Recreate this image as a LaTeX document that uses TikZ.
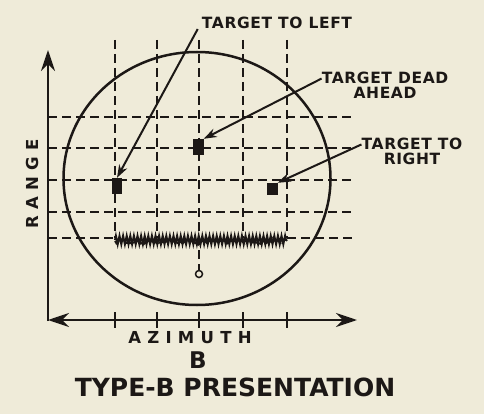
\documentclass[tikz,border=0pt]{standalone}
\usepackage{fontspec}
\setmainfont{DejaVu Sans}
\usetikzlibrary{arrows.meta,decorations.pathmorphing}
\definecolor{paper}{RGB}{239,235,217}
\definecolor{ink}{RGB}{28,24,22}
\tikzset{
	gridline/.style={ink,line width=1.6pt,dash pattern=on 9pt off 5pt},
	blip/.style={fill=ink,inner sep=0pt,draw=none},
	callout/.style={font=\bfseries\fontsize{15.5}{15}\selectfont\addfontfeature{LetterSpace=4},text=ink,inner sep=0pt,align=center},
	pointer/.style={ink,line width=2pt,-{Stealth[length=13pt,width=9pt]}},
	axis/.style={ink,line width=2.4pt},
	spaced/.style={font=\bfseries\fontsize{16.5}{18}\selectfont\addfontfeature{LetterSpace=38}}
}
\begin{document}
\begin{tikzpicture}[x=1pt,y=-1pt]
		\fill[paper] (0,0) rectangle (484,414);
		\useasboundingbox (0,0) rectangle (484,414);
		
		\draw[gridline] (48,117) -- (352,117);
		\draw[gridline] (48,148) -- (352,148);
		\draw[gridline] (48,180) -- (352,180);
		\draw[gridline] (48,212) -- (352,212);
		\draw[gridline] (48,238) -- (115,238);
		\draw[gridline] (287,238) -- (352,238);
		
		\node[draw=ink,circle,line width=1.5pt,inner sep=0pt,minimum size=7pt] (zero) at (199,274) {};
		
		\draw[gridline] (115,40) -- (115,238);
		\draw[gridline] (157,40) -- (157,238);
		\draw[gridline] (199,40) -- (zero.north);
		\draw[gridline] (243,40) -- (243,238);
		\draw[gridline] (287,40) -- (287,238);
		
		\draw[ink,line width=2.5pt] (197,178.5) ellipse [x radius=133.5,y radius=126.5];
		
		\draw[ink,line width=1.9pt,decorate,decoration={zigzag,segment length=3.6pt,amplitude=4.4pt}] (115,240) -- (287,240);
		\draw[ink,line width=1.8pt,decorate,decoration={random steps,segment length=2.5pt,amplitude=2.8pt}] (115,241) -- (287,241);
		
		\node[blip,minimum width=10pt,minimum height=16pt] (bleft) at (117,186) {};
		\node[blip,minimum width=11pt,minimum height=16pt] (bahead) at (198,147) {};
		\node[blip,minimum width=11pt,minimum height=12pt] (bright) at (272,189) {};
		
		\coordinate (origin) at (48,320);
		\coordinate (rangetop) at (48,50);
		\coordinate (azimuthend) at (357,320);
		\draw[axis,-{Stealth[length=21pt,width=14pt]}] ([yshift=-1.2pt]origin) -- (rangetop);
		\draw[axis,{Stealth[length=21pt,width=14pt]}-{Stealth[length=21pt,width=14pt]}] (origin) -- (azimuthend);
		
		\draw[axis,line width=1.8pt] (115,312) -- (115,328);
		\draw[axis,line width=1.8pt] (157,312) -- (157,328);
		\draw[axis,line width=1.8pt] (199,312) -- (199,328);
		\draw[axis,line width=1.8pt] (243,312) -- (243,328);
		\draw[axis,line width=1.8pt] (287,312) -- (287,328);
		
		\node[callout] (tleft) at (277,23) {TARGET TO LEFT};
		\node[callout] (tahead) at (385,85) {TARGET DEAD\\AHEAD};
		\node[callout] (tright) at (412,151) {TARGET TO\\RIGHT};
		
		\draw[pointer] ([xshift=-4pt]tleft.south west) -- (bleft.north);
		\draw[pointer] ([yshift=-7pt]tahead.north west) -- (bahead.north east);
		\draw[pointer] ([yshift=-7pt]tright.north west) -- (bright.north east);
		
		\node[callout,spaced,rotate=90] (range) at (32,184) {RANGE};
		\node[callout,spaced] (azimuth) at (190,338) {AZIMUTH};
		\node[callout,font=\bfseries\fontsize{23}{25}\selectfont] (bname) at (198,360) {B};
		\node[callout,font=\bfseries\fontsize{25}{27}\selectfont] (title) at (235,387) {TYPE-B PRESENTATION};
	\end{tikzpicture}
\end{document}
